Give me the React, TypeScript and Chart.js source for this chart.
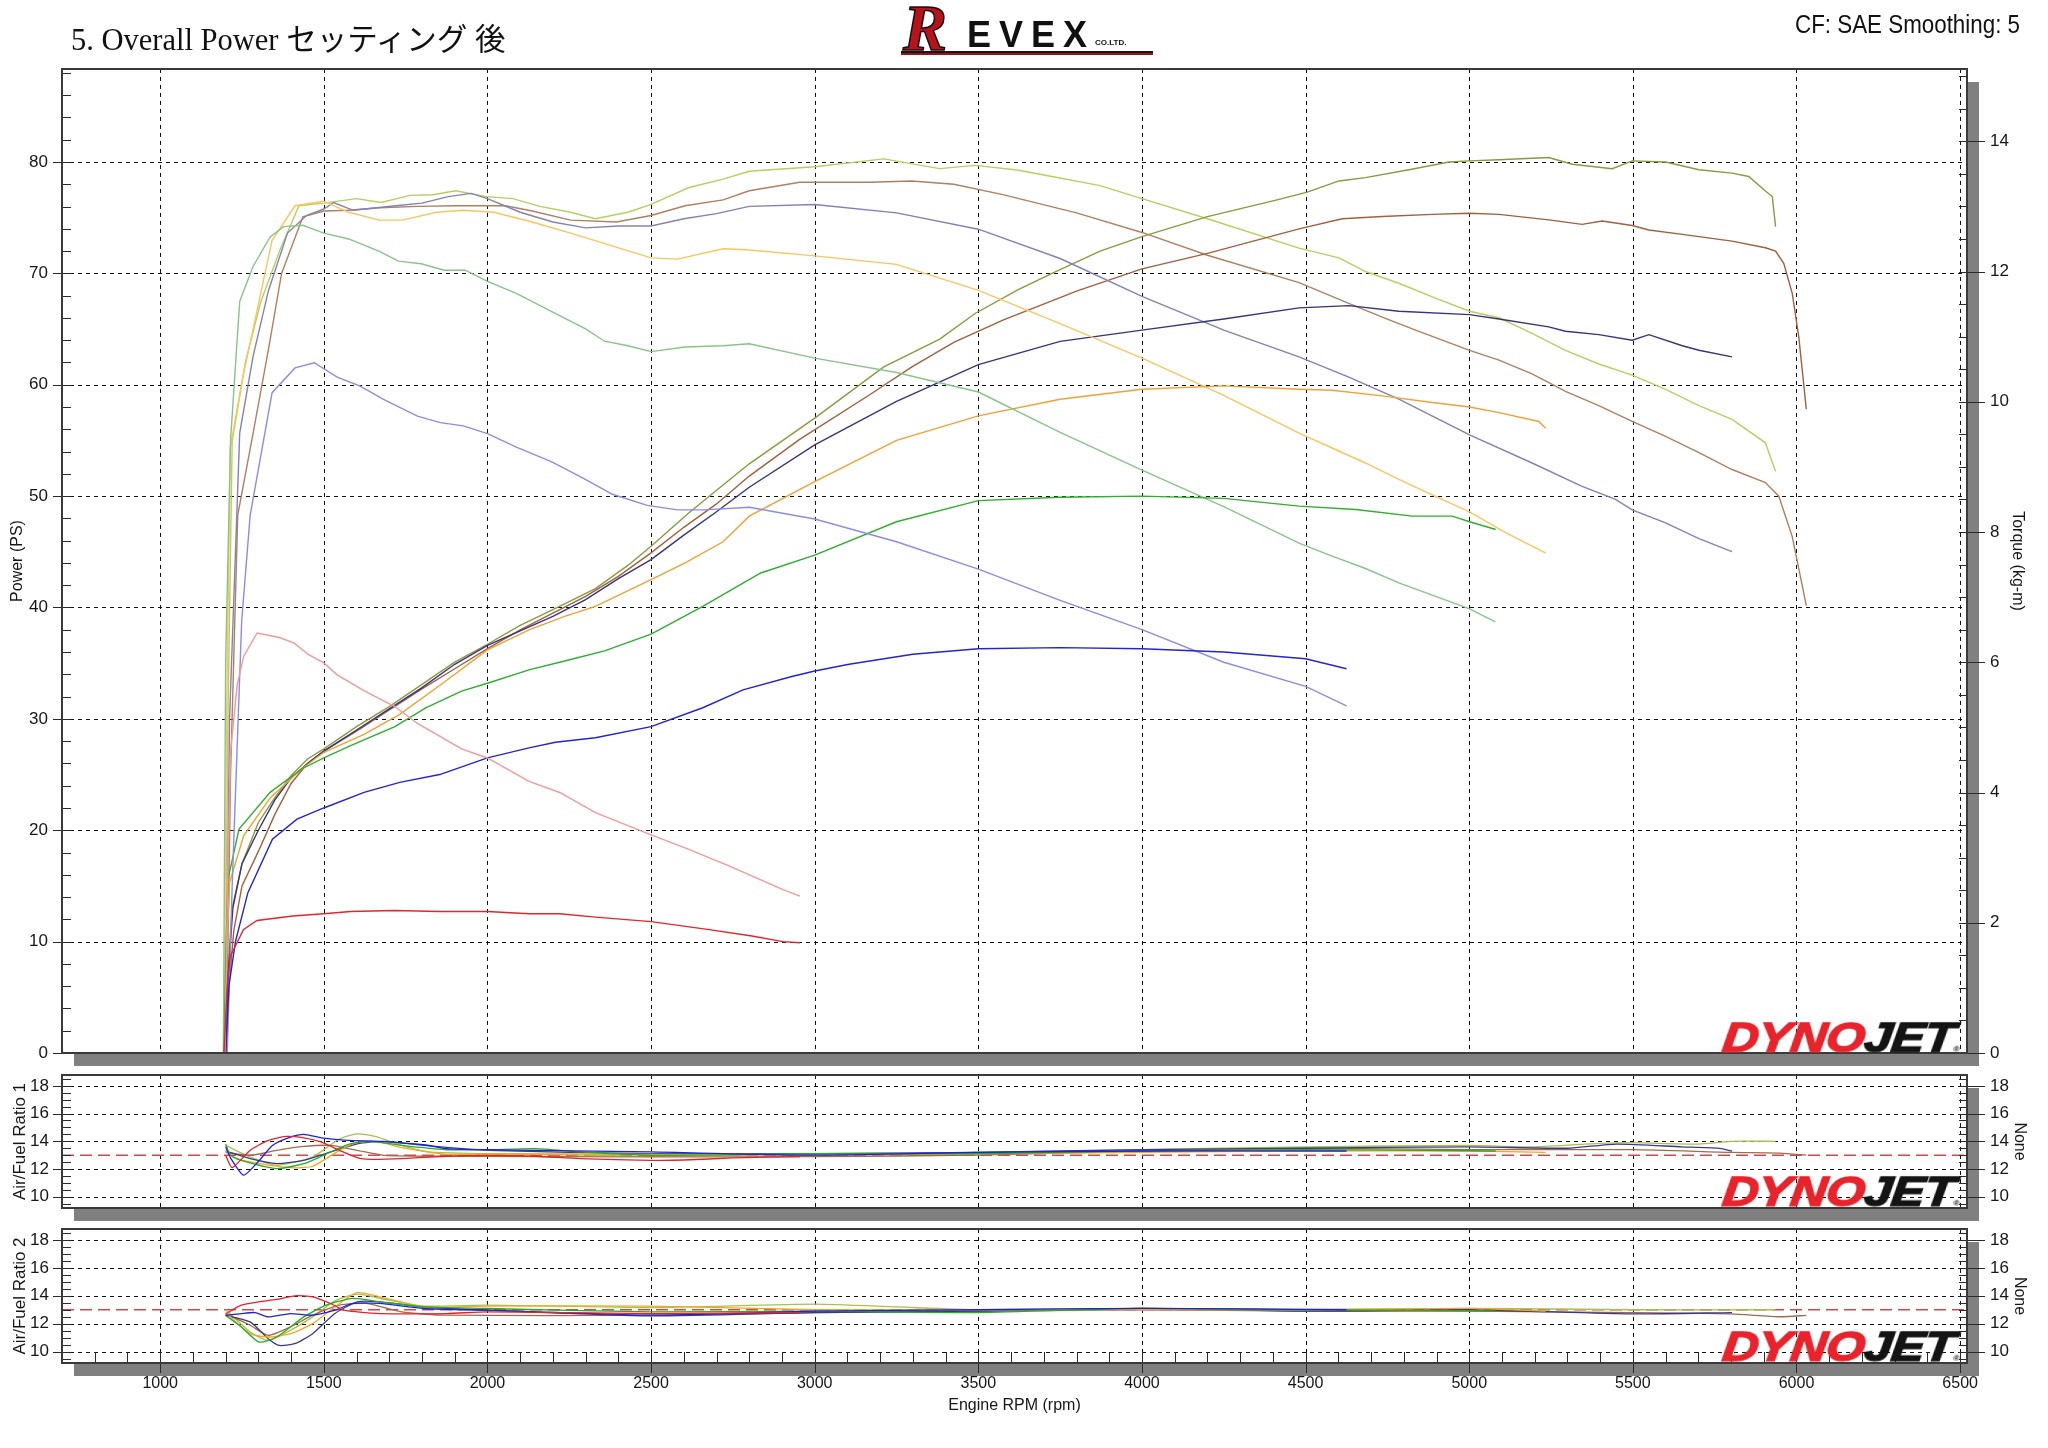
import React, { useEffect, useRef } from 'react';
import { Chart, registerables } from 'chart.js';

Chart.register(...registerables);

type P = [number, number][];

// ---------- axes ----------
const rpmMin = 700;
const rpmMax = 6521;
const rpmTicks = [1000, 1500, 2000, 2500, 3000, 3500, 4000, 4500, 5000, 5500, 6000, 6500];
const powerTicks = [0, 10, 20, 30, 40, 50, 60, 70, 80];
const powerGrid = [10, 20, 30, 40, 50, 60, 70, 80];
const powerMax = 88.35;
const torqueTicks = [0, 2, 4, 6, 8, 10, 12, 14];
const torqueMax = 15.11;
const afrTicks = [10, 12, 14, 16, 18];
const afrMin = 9.19;
const afrMax = 18.78;
const afrTarget = 13;

// ---------- power (PS) ----------
const redPower: P = [[1195,0],[1205,6],[1214,8.7],[1255,11.1],[1296,11.9],[1405,12.3],[1500,12.5],[1582,12.7],[1717,12.8],[1853,12.7],[2000,12.7],[2127,12.5],[2221,12.5],[2330,12.2],[2500,11.8],[2672,11.1],[2808,10.5],[2903,10.0],[2955,9.9]];
const bluePower: P = [[1200,0],[1210,6],[1230,10],[1268,14.4],[1343,19.2],[1418,21.0],[1500,22.0],[1623,23.4],[1732,24.3],[1854,25.0],[2000,26.5],[2127,27.4],[2208,27.9],[2330,28.3],[2500,29.3],[2658,31.0],[2781,32.6],[2930,33.8],[3000,34.3],[3105,34.9],[3300,35.8],[3500,36.3],[3750,36.4],[4000,36.3],[4250,36.0],[4500,35.4],[4625,34.5]];
const greenPower: P = [[1195,0],[1200,8],[1207,15.6],[1241,20.1],[1336,23.4],[1432,25.5],[1500,26.5],[1582,27.6],[1717,29.3],[1813,31.0],[1921,32.5],[2000,33.2],[2127,34.4],[2236,35.2],[2358,36.1],[2500,37.6],[2658,40.1],[2835,43.1],[3000,44.7],[3250,47.7],[3500,49.6],[3750,49.9],[4000,50.0],[4250,49.8],[4480,49.1],[4653,48.8],[4826,48.2],[4948,48.2],[5001,47.7],[5081,47.0]];
const orangePower: P = [[1195,0],[1202,8],[1212,15.3],[1255,19.5],[1336,22.9],[1432,25.5],[1500,27.0],[1623,28.6],[1732,30.4],[1854,33.0],[2000,36.2],[2127,38.0],[2236,39.2],[2330,40.1],[2500,42.5],[2604,44.0],[2720,45.9],[2800,48.2],[3000,51.3],[3250,55.0],[3500,57.2],[3750,58.7],[4000,59.6],[4250,59.9],[4480,59.6],[4581,59.5],[4734,59.0],[4887,58.4],[5001,58.0],[5091,57.5],[5213,56.7],[5233,56.1]];
const navyPower: P = [[1200,0],[1208,7],[1222,13],[1250,17],[1300,20.0],[1350,22.7],[1400,24.7],[1450,26.0],[1500,27.1],[1600,29.0],[1700,30.9],[1800,32.8],[1900,34.9],[2000,36.6],[2100,37.9],[2200,39.2],[2300,40.7],[2400,42.6],[2500,44.3],[2600,46.5],[2700,48.6],[2800,50.8],[3000,54.6],[3250,58.5],[3500,61.8],[3750,63.9],[4000,64.9],[4250,65.9],[4480,66.9],[4632,67.1],[4785,66.6],[5001,66.3],[5091,65.9],[5243,65.2],[5294,64.8],[5396,64.5],[5498,64.0],[5549,64.5],[5651,63.5],[5702,63.1],[5803,62.5]];
const brownPower: P = [[1202,0],[1210,6],[1225,11],[1250,15],[1300,18.1],[1350,21.4],[1400,24.2],[1450,26.0],[1500,27.1],[1600,28.9],[1700,30.8],[1800,32.7],[1900,34.5],[2000,36.3],[2100,38.0],[2200,39.5],[2300,41.0],[2400,42.8],[2500,44.9],[2600,47.2],[2700,49.3],[2800,51.8],[2954,55.1],[3168,59.1],[3297,61.6],[3425,63.8],[3575,65.8],[3800,68.4],[4000,70.4],[4200,71.8],[4480,74.0],[4612,74.9],[4734,75.1],[4887,75.3],[5001,75.4],[5091,75.3],[5243,74.8],[5345,74.4],[5406,74.7],[5498,74.3],[5549,73.9],[5651,73.5],[5803,72.9],[5905,72.3],[5936,72.0],[5961,70.9],[5987,68.2],[6007,64.3],[6030,57.8]];
const olivePower: P = [[1197,0],[1206,7],[1220,13],[1250,17],[1300,20.7],[1350,22.9],[1400,24.9],[1450,26.4],[1500,27.3],[1600,29.3],[1700,31.1],[1800,33.1],[1900,35.1],[2000,36.7],[2100,38.4],[2200,39.8],[2330,41.7],[2430,43.8],[2500,45.5],[2616,48.5],[2720,51.0],[2800,52.9],[3000,57.0],[3211,61.6],[3382,64.1],[3490,66.4],[3619,68.5],[3725,70.0],[3872,72.0],[4000,73.3],[4200,75.1],[4413,76.6],[4505,77.3],[4602,78.3],[4683,78.6],[4816,79.3],[4938,80.0],[5001,80.1],[5091,80.2],[5243,80.4],[5315,79.8],[5437,79.4],[5498,80.1],[5600,80.0],[5702,79.3],[5803,79.0],[5854,78.7],[5905,77.4],[5926,76.9],[5936,74.2]];

// ---------- torque (kg-m) ----------
const redTorque: P = [[1198,0],[1206,2.57],[1215,4.62],[1235,5.64],[1255,6.09],[1296,6.45],[1365,6.38],[1411,6.29],[1452,6.12],[1500,5.99],[1540,5.81],[1621,5.57],[1717,5.32],[1786,5.06],[1921,4.67],[2000,4.53],[2127,4.17],[2221,4.0],[2330,3.69],[2500,3.35],[2604,3.15],[2740,2.87],[2903,2.51],[2955,2.41]];
const blueTorque: P = [[1205,0],[1220,2.57],[1249,6.63],[1275,8.26],[1342,10.14],[1412,10.52],[1471,10.6],[1541,10.38],[1611,10.24],[1681,10.04],[1786,9.78],[1856,9.68],[1926,9.63],[2000,9.51],[2090,9.30],[2195,9.08],[2288,8.84],[2382,8.58],[2488,8.41],[2581,8.34],[2662,8.34],[2800,8.38],[3000,8.2],[3250,7.85],[3500,7.43],[3750,6.95],[4000,6.5],[4250,6.0],[4500,5.63],[4625,5.33]];
const greenTorque: P = [[1193,0],[1200,5.99],[1215,9.41],[1243,11.54],[1283,12.07],[1336,12.53],[1377,12.69],[1436,12.71],[1500,12.59],[1576,12.5],[1670,12.31],[1728,12.16],[1798,12.12],[1868,12.02],[1932,12.02],[2000,11.85],[2090,11.66],[2195,11.39],[2300,11.12],[2358,10.93],[2429,10.86],[2500,10.77],[2604,10.84],[2720,10.86],[2800,10.89],[3000,10.67],[3250,10.45],[3500,10.15],[3750,9.53],[4000,8.95],[4250,8.39],[4480,7.83],[4581,7.63],[4683,7.44],[4785,7.22],[4887,7.03],[5001,6.82],[5080,6.62]];
const orangeTorque: P = [[1195,0],[1203,5.13],[1214,9.29],[1249,10.29],[1284,11.12],[1342,12.48],[1412,13.01],[1500,13.08],[1576,12.91],[1670,12.79],[1739,12.79],[1845,12.91],[1926,12.94],[2020,12.91],[2137,12.76],[2254,12.59],[2371,12.41],[2500,12.21],[2581,12.19],[2720,12.35],[2800,12.33],[3000,12.24],[3250,12.11],[3500,11.71],[3750,11.2],[4000,10.67],[4250,10.1],[4480,9.52],[4581,9.29],[4683,9.06],[4785,8.81],[4887,8.57],[5001,8.31],[5111,7.99],[5233,7.68]];
const navyTorque: P = [[1200,0],[1212,5.13],[1243,9.52],[1284,10.7],[1331,11.71],[1389,12.59],[1447,12.86],[1500,12.96],[1530,13.06],[1590,12.94],[1720,13.01],[1800,13.05],[1880,13.15],[1950,13.2],[2000,13.12],[2100,12.91],[2200,12.76],[2300,12.67],[2400,12.7],[2500,12.7],[2600,12.81],[2700,12.89],[2800,13.0],[3000,13.03],[3250,12.9],[3500,12.65],[3750,12.2],[4000,11.62],[4250,11.1],[4480,10.69],[4632,10.38],[4785,10.04],[5001,9.49],[5192,9.06],[5345,8.7],[5447,8.5],[5498,8.34],[5600,8.14],[5702,7.9],[5803,7.7]];
const brownTorque: P = [[1202,0],[1215,4.28],[1237,8.26],[1284,9.52],[1331,10.81],[1371,11.97],[1436,12.84],[1500,12.93],[1576,12.94],[1670,12.98],[1786,13.0],[1903,13.01],[2055,13.01],[2137,12.93],[2254,12.79],[2394,12.76],[2500,12.86],[2604,13.01],[2720,13.1],[2800,13.24],[2954,13.37],[3168,13.37],[3297,13.39],[3425,13.34],[3575,13.18],[3800,12.9],[4000,12.6],[4200,12.25],[4480,11.83],[4632,11.51],[4734,11.3],[4836,11.1],[5001,10.79],[5091,10.64],[5192,10.43],[5294,10.16],[5396,9.94],[5498,9.7],[5600,9.47],[5702,9.22],[5803,8.96],[5905,8.76],[5946,8.55],[5987,7.93],[6030,6.87]];
const oliveTorque: P = [[1197,0],[1207,5.13],[1220,9.39],[1260,10.6],[1307,11.53],[1366,12.33],[1424,13.01],[1500,13.05],[1600,13.12],[1675,13.06],[1763,13.17],[1833,13.18],[1903,13.24],[1997,13.15],[2078,13.12],[2160,13.0],[2254,12.91],[2330,12.81],[2429,12.91],[2500,13.03],[2616,13.29],[2720,13.42],[2800,13.54],[3000,13.61],[3211,13.73],[3382,13.58],[3490,13.63],[3619,13.56],[3725,13.46],[3872,13.32],[4000,13.12],[4200,12.81],[4480,12.36],[4602,12.21],[4683,12.0],[4785,11.82],[4887,11.61],[5001,11.39],[5091,11.29],[5192,11.05],[5294,10.79],[5396,10.58],[5498,10.41],[5600,10.19],[5702,9.94],[5803,9.73],[5905,9.37],[5936,8.93]];

// ---------- air/fuel ratio 1 ----------
const redAfr1: P = [[1200,13.0],[1220,12.1],[1275,13.35],[1330,14.06],[1384,14.35],[1439,14.25],[1493,13.94],[1548,13.35],[1602,12.82],[1643,12.7],[1738,12.75],[1875,12.92],[2000,12.99],[2147,12.92],[2283,12.75],[2500,12.63],[2600,12.65],[2750,12.8],[2955,12.9]];
const blueAfr1: P = [[1200,13.6],[1215,12.8],[1255,11.56],[1302,12.6],[1343,13.7],[1398,14.3],[1439,14.5],[1493,14.25],[1575,14.06],[1670,14.0],[1806,13.75],[1875,13.47],[2000,13.39],[2147,13.35],[2500,13.23],[3000,13.0],[3500,13.2],[4000,13.3],[4625,13.3]];
const greenAfr1: P = [[1200,13.8],[1215,13.0],[1250,12.6],[1356,12.03],[1439,12.39],[1493,12.92],[1575,13.78],[1643,14.0],[1738,13.7],[1875,13.39],[2000,13.39],[2147,13.47],[2283,13.23],[2500,12.99],[3000,13.1],[3500,13.1],[4000,13.3],[4500,13.4],[5081,13.3]];
const orangeAfr1: P = [[1200,13.35],[1220,12.9],[1275,12.51],[1398,12.1],[1466,12.2],[1548,13.35],[1602,13.94],[1670,13.94],[1738,13.54],[1875,13.06],[2000,13.1],[2500,13.06],[3000,13.0],[3500,13.1],[4000,13.2],[4500,13.3],[5000,13.3],[5233,13.2]];
const navyAfr1: P = [[1200,13.3],[1275,12.75],[1356,12.39],[1439,12.63],[1521,13.23],[1602,13.82],[1684,14.0],[1806,13.7],[2000,13.35],[2500,13.1],[3000,13.1],[3500,13.2],[4000,13.4],[4500,13.5],[5000,13.6],[5300,13.5],[5450,13.8],[5650,13.6],[5760,13.5],[5803,13.3]];
const brownAfr1: P = [[1200,13.2],[1275,12.99],[1356,13.35],[1439,13.63],[1521,13.7],[1602,13.35],[1684,12.99],[1875,12.92],[2500,12.87],[3000,12.9],[3500,13.0],[4000,13.3],[4500,13.5],[5000,13.4],[5500,13.4],[5800,13.2],[5950,13.15],[6030,13.0]];
const oliveAfr1: P = [[1200,13.7],[1275,12.87],[1356,12.27],[1466,12.87],[1548,14.18],[1602,14.54],[1657,14.35],[1738,13.7],[1820,13.23],[2000,13.1],[2147,13.06],[2500,12.92],[3000,13.1],[3500,13.2],[4000,13.4],[4500,13.6],[5000,13.7],[5200,13.6],[5400,13.85],[5500,13.9],[5700,13.8],[5800,14.0],[5936,14.0]];

// ---------- air/fuel ratio 2 ----------
const redAfr2: P = [[1200,12.7],[1248,13.33],[1302,13.57],[1356,13.74],[1411,14.0],[1466,13.93],[1521,13.45],[1561,12.97],[1602,12.85],[1670,12.73],[1875,12.73],[2000,12.85],[2500,12.73],[2955,12.8]];
const blueAfr2: P = [[1200,12.6],[1248,12.73],[1290,12.8],[1330,12.49],[1398,12.73],[1466,12.61],[1534,12.97],[1589,13.45],[1670,13.45],[1806,13.09],[2000,12.97],[2500,12.61],[3000,12.9],[3500,13.0],[4000,13.1],[4625,13.0]];
const greenAfr2: P = [[1200,12.6],[1248,11.77],[1302,10.69],[1356,11.05],[1439,12.49],[1507,13.33],[1589,13.81],[1670,13.57],[1806,13.21],[2000,13.09],[2500,12.85],[3000,12.9],[3500,12.8],[4000,13.1],[4500,13.0],[5081,12.9]];
const orangeAfr2: P = [[1200,12.8],[1275,11.29],[1330,11.05],[1398,11.29],[1466,12.01],[1534,13.21],[1602,14.22],[1670,13.93],[1806,13.21],[2000,13.26],[2500,13.26],[3000,13.0],[3500,13.0],[4000,13.0],[4500,13.0],[5000,13.1],[5233,12.9]];
const navyAfr2: P = [[1200,12.6],[1275,12.13],[1330,10.93],[1364,10.45],[1411,10.57],[1466,11.29],[1534,12.73],[1602,13.57],[1670,13.57],[1806,13.21],[2000,12.97],[2500,12.56],[3000,12.8],[3500,12.9],[4000,13.1],[4500,12.9],[5000,13.0],[5500,12.7],[5803,12.8]];
const brownAfr2: P = [[1200,12.7],[1275,11.89],[1330,11.17],[1398,11.77],[1466,12.61],[1548,13.33],[1630,13.45],[1738,12.85],[1875,12.61],[2500,12.61],[3000,12.8],[3500,12.9],[4000,13.0],[4500,12.9],[5000,12.9],[5500,12.8],[5800,12.7],[5950,12.5],[6030,12.6]];
const oliveAfr2: P = [[1200,13.0],[1275,11.41],[1330,10.81],[1398,11.53],[1466,12.49],[1534,13.64],[1602,14.12],[1698,13.69],[1806,13.26],[2000,13.33],[2500,13.16],[3000,13.4],[3250,13.2],[3500,13.0],[4000,13.1],[4500,13.0],[5000,13.1],[5500,13.0],[5936,13.0]];

// ---------- runs (table built from the arrays above) ----------
const runs = [
  { power: redPower, torque: redTorque, afr1: redAfr1, afr2: redAfr2, pc: '#e3262c', tc: '#f29a9a', ac: '#e52228' },
  { power: bluePower, torque: blueTorque, afr1: blueAfr1, afr2: blueAfr2, pc: '#2424d0', tc: '#8c8ce6', ac: '#2020e0' },
  { power: greenPower, torque: greenTorque, afr1: greenAfr1, afr2: greenAfr2, pc: '#2fae2f', tc: '#88c488', ac: '#22b022' },
  { power: orangePower, torque: orangeTorque, afr1: orangeAfr1, afr2: orangeAfr2, pc: '#f2a033', tc: '#f8c65c', ac: '#f5a623' },
  { power: navyPower, torque: navyTorque, afr1: navyAfr1, afr2: navyAfr2, pc: '#35357f', tc: '#8282b4', ac: '#3a3a8a' },
  { power: brownPower, torque: brownTorque, afr1: brownAfr1, afr2: brownAfr2, pc: '#a1603c', tc: '#b0805f', ac: '#a26a4a' },
  { power: olivePower, torque: oliveTorque, afr1: oliveAfr1, afr2: oliveAfr2, pc: '#8a9a3e', tc: '#b8cf5f', ac: '#a8c050' },
];

const SANS = '"Liberation Sans", Arial, sans-serif';
const TXT = '#161616';

const toXY = (p: P) => p.map(([x, y]) => ({ x, y }));

type PanelCfg = {
  yL: string; yR: string; gridY: number[];
  lMinor: [number, number, number]; rMinor: [number, number, number];
  lMajor: number[]; rMajor: number[]; xTicks: boolean;
};

function panelPlugin(cfg: PanelCfg) {
  return {
    id: 'panel',
    beforeDraw(chart: any) {
      const { ctx, chartArea: a } = chart;
      const w = a.right - a.left, h = a.bottom - a.top;
      ctx.save();
      ctx.fillStyle = '#808080';
      ctx.fillRect(a.left + 12, a.top + 13, w, h);
      ctx.fillStyle = '#ffffff';
      ctx.fillRect(a.left, a.top, w, h);
      ctx.restore();
    },
    beforeDatasetsDraw(chart: any) {
      const { ctx, chartArea: a, scales } = chart;
      const xs = scales.x, yl = scales[cfg.yL];
      ctx.save();
      ctx.strokeStyle = '#111';
      ctx.lineWidth = 1;
      ctx.setLineDash([4, 4]);
      ctx.beginPath();
      for (const v of rpmTicks) {
        const px = Math.round(xs.getPixelForValue(v)) + 0.5;
        ctx.moveTo(px, a.top); ctx.lineTo(px, a.bottom);
      }
      for (const v of cfg.gridY) {
        const py = Math.round(yl.getPixelForValue(v)) + 0.5;
        ctx.moveTo(a.left, py); ctx.lineTo(a.right, py);
      }
      ctx.stroke();
      ctx.restore();
    },
    afterDatasetsDraw(chart: any) {
      const { ctx, chartArea: a, scales } = chart;
      const yl = scales[cfg.yL], yr = scales[cfg.yR], xs = scales.x;
      ctx.save();
      ctx.strokeStyle = '#2a2a2a';
      ctx.lineWidth = 1;
      ctx.beginPath();
      const [l0, l1, ls] = cfg.lMinor;
      for (let v = l0; v <= l1 + 1e-9; v += ls) {
        const py = Math.round(yl.getPixelForValue(v)) + 0.5;
        ctx.moveTo(a.left, py); ctx.lineTo(a.left + 9, py);
      }
      for (const v of cfg.lMajor) {
        const py = Math.round(yl.getPixelForValue(v)) + 0.5;
        ctx.moveTo(a.left - 9, py); ctx.lineTo(a.left + 9, py);
      }
      const [r0, r1, rs] = cfg.rMinor;
      for (let v = r0; v <= r1 + 1e-9; v += rs) {
        const py = Math.round(yr.getPixelForValue(v)) + 0.5;
        ctx.moveTo(a.right - 8, py); ctx.lineTo(a.right, py);
      }
      for (const v of cfg.rMajor) {
        const py = Math.round(yr.getPixelForValue(v)) + 0.5;
        ctx.moveTo(a.right - 8, py); ctx.lineTo(a.right + 18, py);
      }
      if (cfg.xTicks) {
        for (let v = 800; v <= 6500; v += 100) {
          const px = Math.round(xs.getPixelForValue(v)) + 0.5;
          ctx.moveTo(px, a.bottom); ctx.lineTo(px, a.bottom - 11);
        }
        for (const v of rpmTicks) {
          const px = Math.round(xs.getPixelForValue(v)) + 0.5;
          ctx.moveTo(px, a.bottom); ctx.lineTo(px, a.bottom + 10);
        }
      }
      ctx.stroke();
      ctx.lineWidth = 2;
      ctx.strokeStyle = '#3a3a3a';
      ctx.strokeRect(a.left, a.top, a.right - a.left, a.bottom - a.top);
      ctx.restore();
    },
  };
}

const fixedTicks = (vals: number[]) => (s: any) => { s.ticks = vals.map((v) => ({ value: v })); };
const fitV = (w: number) => (s: any) => { s.width = w; s.paddingTop = 0; s.paddingBottom = 0; };
const fitH = (h: number) => (s: any) => { s.height = h; s.paddingLeft = 0; s.paddingRight = 0; };

function makeMain(canvas: HTMLCanvasElement) {
  const datasets: any[] = [];
  runs.forEach((r) => {
    datasets.push({ data: toXY(r.power), yAxisID: 'yP', borderColor: r.pc, borderWidth: 1.4, pointRadius: 0, tension: 0, fill: false });
    datasets.push({ data: toXY(r.torque), yAxisID: 'yT', borderColor: r.tc, borderWidth: 1.4, pointRadius: 0, tension: 0, fill: false });
  });
  return new Chart(canvas, {
    type: 'line',
    data: { datasets },
    options: {
      responsive: false, animation: false, devicePixelRatio: 1, events: [],
      layout: { padding: { left: 0, right: 21, top: 69, bottom: 19 }, autoPadding: false },
      plugins: { legend: { display: false }, tooltip: { enabled: false } },
      scales: {
        x: { type: 'linear', min: rpmMin, max: rpmMax, display: false },
        yP: {
          type: 'linear', position: 'left', min: 0, max: powerMax,
          afterBuildTicks: fixedTicks(powerTicks), afterFit: fitV(62),
          grid: { display: false, drawTicks: false }, border: { display: false },
          ticks: { font: { family: SANS, size: 17 }, color: TXT, padding: 14, autoSkip: false, callback: (v: any) => String(v) },
          title: { display: true, text: 'Power (PS)', font: { family: SANS, size: 16 }, color: TXT, padding: { top: 8, bottom: 0 } },
        },
        yT: {
          type: 'linear', position: 'right', min: 0, max: torqueMax,
          afterBuildTicks: fixedTicks(torqueTicks), afterFit: fitV(60),
          grid: { display: false, drawTicks: false }, border: { display: false },
          ticks: { font: { family: SANS, size: 17 }, color: TXT, padding: 23, autoSkip: false, callback: (v: any) => String(v) },
          title: { display: true, text: 'Torque (kg-m)', font: { family: SANS, size: 16 }, color: TXT, padding: { top: 0, bottom: 0 } },
        },
      },
    } as any,
    plugins: [panelPlugin({ yL: 'yP', yR: 'yT', gridY: powerGrid, lMinor: [0, 88, 2], rMinor: [0, 15, 0.5], lMajor: powerTicks, rMajor: torqueTicks, xTicks: false })],
  });
}

function makeAfr(canvas: HTMLCanvasElement, which: 1 | 2, padTop: number, padBottom: number) {
  const datasets: any[] = runs.map((r) => ({
    data: toXY(which === 1 ? r.afr1 : r.afr2), yAxisID: 'yA', borderColor: r.ac, borderWidth: 1.3, pointRadius: 0, tension: 0.2, fill: false,
  }));
  datasets.push({
    data: [{ x: rpmMin, y: afrTarget }, { x: rpmMax, y: afrTarget }], yAxisID: 'yA',
    borderColor: '#d24848', borderWidth: 1.5, borderDash: [12, 6], pointRadius: 0, fill: false,
  });
  const showX = which === 2;
  return new Chart(canvas, {
    type: 'line',
    data: { datasets },
    options: {
      responsive: false, animation: false, devicePixelRatio: 1, events: [],
      layout: { padding: { left: 0, right: 19, top: padTop, bottom: padBottom }, autoPadding: false },
      plugins: { legend: { display: false }, tooltip: { enabled: false } },
      scales: {
        x: showX
          ? {
              type: 'linear', min: rpmMin, max: rpmMax, position: 'bottom',
              afterBuildTicks: fixedTicks(rpmTicks), afterFit: fitH(85),
              grid: { display: false, drawTicks: false }, border: { display: false },
              ticks: { font: { family: SANS, size: 16 }, color: TXT, padding: 11, maxRotation: 0, autoSkip: false, callback: (v: any) => String(v) },
              title: { display: true, text: 'Engine RPM (rpm)', font: { family: SANS, size: 16 }, color: TXT, padding: { top: 0, bottom: 33 } },
            }
          : { type: 'linear', min: rpmMin, max: rpmMax, display: false },
        yA: {
          type: 'linear', position: 'left', min: afrMin, max: afrMax,
          afterBuildTicks: fixedTicks(afrTicks), afterFit: fitV(62),
          grid: { display: false, drawTicks: false }, border: { display: false },
          ticks: { font: { family: SANS, size: 17 }, color: TXT, padding: 13, autoSkip: false, callback: (v: any) => String(v) },
          title: { display: true, text: 'Air/Fuel Ratio ' + which, font: { family: SANS, size: 17 }, color: TXT, padding: { top: 10, bottom: 0 } },
        },
        yB: {
          type: 'linear', position: 'right', min: afrMin, max: afrMax,
          afterBuildTicks: fixedTicks(afrTicks), afterFit: fitV(62),
          grid: { display: false, drawTicks: false }, border: { display: false },
          ticks: { font: { family: SANS, size: 17 }, color: TXT, padding: 23, autoSkip: false, callback: (v: any) => String(v) },
          title: { display: true, text: 'None', font: { family: SANS, size: 16 }, color: TXT, padding: { top: 0, bottom: 0 } },
        },
      },
    } as any,
    plugins: [panelPlugin({ yL: 'yA', yR: 'yB', gridY: afrTicks, lMinor: [9.5, 18.5, 0.5], rMinor: [9.5, 18.5, 0.5], lMajor: afrTicks, rMajor: afrTicks, xTicks: showX })],
  });
}

function DynoLogo({ top }: { top: number }) {
  return (
    <div style={{ position: 'absolute', left: 1721, top, height: 31, lineHeight: '31px', fontFamily: SANS, fontWeight: 900, fontStyle: 'italic', fontSize: 43, whiteSpace: 'nowrap', transform: 'scaleX(1.16) skewX(-6deg)', transformOrigin: 'left bottom', letterSpacing: -0.5 }}>
      <span style={{ color: '#e8232b', WebkitTextStroke: '1.6px #e8232b' }}>DYNO</span>
      <span style={{ color: '#141414', WebkitTextStroke: '1.6px #141414' }}>JET</span>
      <span style={{ color: '#141414', fontSize: 8, fontStyle: 'normal' }}>®</span>
    </div>
  );
}

export default function App() {
  const mainRef = useRef<HTMLCanvasElement>(null);
  const a1Ref = useRef<HTMLCanvasElement>(null);
  const a2Ref = useRef<HTMLCanvasElement>(null);

  useEffect(() => {
    const charts = [
      makeMain(mainRef.current!),
      makeAfr(a1Ref.current!, 1, 17, 16),
      makeAfr(a2Ref.current!, 2, 5, 0),
    ];
    return () => charts.forEach((c) => c.destroy());
  }, []);

  return (
    <div style={{ position: 'absolute', left: 0, top: 0, width: 2048, height: 1448, background: '#ffffff', overflow: 'hidden' }}>
      <canvas ref={mainRef} width={2048} height={1072} style={{ position: 'absolute', left: 0, top: 0, width: 2048, height: 1072 }} />
      <canvas ref={a1Ref} width={2048} height={166} style={{ position: 'absolute', left: 0, top: 1058, width: 2048, height: 166 }} />
      <canvas ref={a2Ref} width={2048} height={224} style={{ position: 'absolute', left: 0, top: 1224, width: 2048, height: 224 }} />

      <div style={{ position: 'absolute', left: 71, top: 25, lineHeight: '30px', fontSize: 30.5, fontFamily: '"Liberation Serif", "Noto Sans CJK JP", serif', color: '#111', whiteSpace: 'nowrap' }}>
        5. Overall Power セッティング 後
      </div>

      <div style={{ position: 'absolute', left: 1620, top: 9, width: 400, textAlign: 'right', lineHeight: '30px', fontSize: 26, fontFamily: SANS, color: '#111', whiteSpace: 'nowrap', transform: 'scaleX(0.86)', transformOrigin: 'right center' }}>
        CF: SAE Smoothing: 5
      </div>

      <div style={{ position: 'absolute', left: 901, top: 0, width: 252, height: 58 }}>
        <span style={{ position: 'absolute', left: 2, top: -2, fontFamily: '"Liberation Serif", serif', fontStyle: 'italic', fontWeight: 700, fontSize: 66, lineHeight: '60px', color: '#b8121c', WebkitTextStroke: '1.5px #111' }}>R</span>
        <span style={{ position: 'absolute', left: 66, top: 20, fontFamily: SANS, fontWeight: 700, fontSize: 36, lineHeight: '30px', letterSpacing: 8, color: '#111' }}>EVEX</span>
        <span style={{ position: 'absolute', left: 194, top: 38, fontFamily: SANS, fontWeight: 700, fontSize: 8, lineHeight: '10px', color: '#111' }}>CO.LTD.</span>
        <div style={{ position: 'absolute', left: 0, top: 51, width: 252, height: 2, background: '#151515' }} />
        <div style={{ position: 'absolute', left: 0, top: 53, width: 252, height: 2, background: '#9e1018' }} />
      </div>

      <DynoLogo top={1022} />
      <DynoLogo top={1176} />
      <DynoLogo top={1331} />
    </div>
  );
}
